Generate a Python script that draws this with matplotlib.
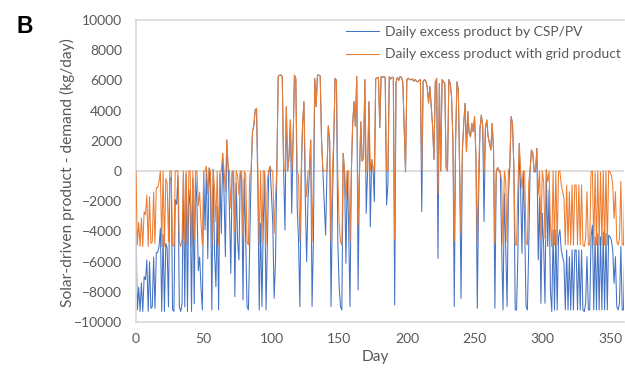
import numpy as np
import matplotlib
matplotlib.use("Agg")
import matplotlib.pyplot as plt

# ---- data (kg/day) ----
csp_pv_a = [-3900, -9200, -7700, -9300, -7400, -9300, -7000, -7200, -5900, -9300,
            -6000, -9100, -9000, -5700, -9100, -5400, -5400, -5000, -3800, -9300,
            -4200, -9300, -4800, -5100, -9000, -600, -400, -9200, -9300, -1900,
            -2200, -300, -9000, -9300, -8800, -200, -9000, -200, -9300, -1200,
            -2300, -9300, -500, -8800, -200, -2200, -6600, -5700, -7700, -9200,
            -100, -3900, 300, -5800, 200, -1100, -9200, 100]
csp_pv_b = [-5460, -7660, -2360, -9200, -180, -4130, 1170, -1480, -5670, 2050,
            280, -2580, -6780, -100, 0, -8320, -800, -4570, -5890, -100,
            -500, -8540, -500, -4570, -8980, -9200, -4570, -200, 2600, 3000,
            4040, 4150, -1480, -9200, -3470, -8980, -3470, -200, -9200, -4900,
            -100, 300, -1500, -3470, -8430, -6000, 100, 6250, 6350, 6350,
            6250, 100, -3910, 4260, 0, 950, 3380, -2800, 2050, 6350]
csp_pv_c = [6130, -2360, -4570, -8980, -600, 3160, 4590, -1810, -6000, -1920,
            -180, 2050, -8980, -4570, 6130, 4260, 6350, 6350, 6300, 2050,
            0, -1920, -4240, 0, 2980, 2050, -8980, -2360, 2050, 6130,
            6000, -4570, -7660, -8980, -9200, 1170, -180, -6110, 0, -3690,
            -8980, -180, 3160, 4590, 2980, 6260, -7880, -180, 3250, 660,
            880, 6050, -2800, 0, 4590, -3690, 770, 220, -2030, 6130]
csp_pv_d = [6150, 6200, 2870, 6250, 6200, 6250, 6200, -2250, -870, 6250,
            6100, 6200, 6200, -8870, 5900, 6200, 6000, 6250, 6200, 5900,
            3000, -60, 6050, 6150, 6050, 6050, 6100, 5950, 6050, 5950,
            5900, 6000, 6050, -2690, 5950, 6050, 5950, 5600, 4500, 5600,
            4260, 2980, 770, 5910, 6130, -5780, 5800, 0, 6050, 5910,
            5800, 220, 0, 6050, 5800, 4900, 2050, -8980, 2050]
csp_pv_e = [5910, 5360, -150, -8430, 1390, 3150, 4480, 1280, 3930, 2500,
            2270, 3150, 2600, 3600, 950, -9090, -1700, 2820, 3710, 2930,
            -3350, 2820, 3380, 2270, 1830, 1390, 3150, 1390, -9090, -150,
            230, 50, -150, -5000, -9200, -1480, -5000, -8980, -1700, 280,
            3600, 3150, 280, -9200, -9200, -5450, 1830, -1260, -5450, -60,
            -3690, -8980, -9200, -5000, 50, 1390, 1170, -60, -60]
csp_pv_f = [1500, -5890, -1700, -8760, -2800, -5000, -8760, 70, -5000, -1260,
            -7880, -9310, -3900, -9200, -3900, -9200, -4360, -3900, -5230, -5670,
            -6110, -9200, -5230, -9200, -5670, -9200, -5230, -9200, -5230, -5230,
            -9200, -5230, -9200, -5230, -9200, -9310, -8760, -5670, -9200, -9200,
            -4360, -3590, -9200, -4360, -9200, -4140, -9200, -4360, -9200, -4030,
            -9200, -4140, -9200, -4250, -4360, -4580, -5230, -7440, -5670, -8980,
            -9200, -8760, -5000, -9200, -9200, -4500, -9000]

grid_a = [0, -4900, -3400, -5000, -3100, -5000, -2700, -2900, -1600, -5000,
          -1700, -4800, -4700, -1400, -4800, -1100, -1100, -700, 0, -5000,
          0, -5000, -500, -800, -4700, 0, 0, -4900, -5000, 0,
          0, 0, -4700, -5000, -4500, 0, -4700, 0, -5000, 0,
          0, -5000, 0, -4500, 0, 0, -2300, -1400, -3400, -4900,
          0, 0, 300, -1500, 200, 0, -4900, 100]
grid_b = [-1160, -3360, 0, -4900, 0, 0, 1170, 0, -1370, 2050,
          280, 0, -2480, 0, 0, -4020, 0, -270, -1590, 0,
          0, -4240, 0, -270, -4680, -4900, -270, 0, 2600, 3000,
          4040, 4150, 0, -4900, 0, -4680, 0, 0, -4900, -600,
          0, 300, 0, 0, -4130, -1700, 100, 6250, 6350, 6350,
          6250, 100, 0, 4260, 0, 950, 3380, 0, 2050, 6350]
grid_c = [6130, 0, -270, -4680, 0, 3160, 4590, 0, -1700, 0,
          0, 2050, -4680, -270, 6130, 4260, 6350, 6350, 6300, 2050,
          0, 0, 0, 0, 2980, 2050, -4680, 0, 2050, 6130,
          6000, -270, -3360, -4680, -4900, 1170, 0, -1810, 0, 0,
          -4680, 0, 3160, 4590, 2980, 6260, -3580, 0, 3250, 660,
          880, 6050, 0, 0, 4590, 0, 770, 220, 0, 6130]
grid_d = [6150, 6200, 2870, 6250, 6200, 6250, 6200, 0, 0, 6250,
          6100, 6200, 6200, -4570, 5900, 6200, 6000, 6250, 6200, 5900,
          3000, 0, 6050, 6150, 6050, 6050, 6100, 5950, 6050, 5950,
          5900, 6000, 6050, 0, 5950, 6050, 5950, 5600, 4500, 5600,
          4260, 2980, 770, 5910, 6130, -1480, 5800, 0, 6050, 5910,
          5800, 220, 0, 6050, 5800, 4900, 2050, -4680, 2050]
grid_e = [5910, 5360, 0, -4130, 1390, 3150, 4480, 1280, 3930, 2500,
          2270, 3150, 2600, 3600, 950, -4790, 0, 2820, 3710, 2930,
          0, 2820, 3380, 2270, 1830, 1390, 3150, 1390, -4790, 0,
          230, 50, 0, -700, -4900, 0, -700, -4680, 0, 280,
          3600, 3150, 280, -4900, -4900, -1150, 1830, 0, -1150, 0,
          0, -4680, -4900, -700, 50, 1390, 1170, 0, 0]
grid_f = [1500, -1590, 0, -4460, 0, -700, -4460, 70, -700, 0,
          -3580, -5010, 0, -4900, 0, -4900, -60, 0, -930, -1370,
          -1810, -4900, -930, -4900, -1370, -4900, -930, -4900, -930, -930,
          -4900, -930, -4900, -930, -4900, -5010, -4460, -1370, -4900, -4900,
          -60, 0, -4900, -60, -4900, 0, -4900, -60, -4900, 0,
          -4900, 0, -4900, 0, -60, -280, -930, -3140, -1370, -4680,
          -4900, -4460, -700, -4900, -4900, -200, -4700]

csp_pv = csp_pv_a + csp_pv_b + csp_pv_c + csp_pv_d + csp_pv_e + csp_pv_f
with_grid = grid_a + grid_b + grid_c + grid_d + grid_e + grid_f
days = list(range(len(csp_pv)))

y_ticks = [-10000, -8000, -6000, -4000, -2000, 0, 2000, 4000, 6000, 8000, 10000]
x_ticks = [0, 50, 100, 150, 200, 250, 300, 350]
labels = ["Daily excess product by CSP/PV", "Daily excess product with grid product"]

# ---- figure ----
FONT = ["Lato", "DejaVu Sans"]
plt.rcParams["font.family"] = FONT
TXT = "#595959"
BORDER = "#d9d9d9"

fig = plt.figure(figsize=(6.25, 3.69), dpi=100)
ax = fig.add_axes([136 / 625, 1 - 322 / 369, 488 / 625, 302 / 369])

ax.axhline(0, color=BORDER, lw=1.2, zorder=1)
ax.plot(days, csp_pv, color="#4472C4", lw=0.75, label=labels[0], zorder=2)
ax.plot(days, with_grid, color="#ED7D31", lw=0.75, label=labels[1], zorder=3)

ax.set_xlim(0, 488 / 1.3543)
ax.set_ylim(-10000, 10000)
ax.set_xticks(x_ticks)
ax.set_yticks(y_ticks)
ax.tick_params(axis="both", length=0, labelsize=10, labelcolor=TXT)
ax.tick_params(axis="y", pad=10)
ax.tick_params(axis="x", pad=8)
for s in ["top", "left", "bottom"]:
    ax.spines[s].set_color(BORDER)
    ax.spines[s].set_linewidth(1.2)
ax.spines["right"].set_visible(False)

fig.text(67 / 625, 1 - 173 / 369, "Solar-driven product - demand (kg/day)",
         rotation=90, ha="center", va="center", fontsize=11.2, color=TXT)
fig.text(375 / 625, 1 - 357 / 369, "Day", ha="center", va="center",
         fontsize=11.2, color=TXT)
fig.text(16 / 625, 1 - 33 / 369, "B", ha="left", va="baseline",
         fontsize=16.5, fontweight="bold", family=["Liberation Sans", "DejaVu Sans"],
         color="black")

leg = ax.legend(loc="upper left", bbox_to_anchor=(346 / 625, 1 - 26 / 369),
                bbox_transform=fig.transFigure, frameon=False, fontsize=10,
                handlelength=2.4, handletextpad=0.4, labelspacing=0.75,
                borderpad=0, borderaxespad=0)
for t in leg.get_texts():
    t.set_color(TXT)

fig.savefig("out.png", dpi=100)
